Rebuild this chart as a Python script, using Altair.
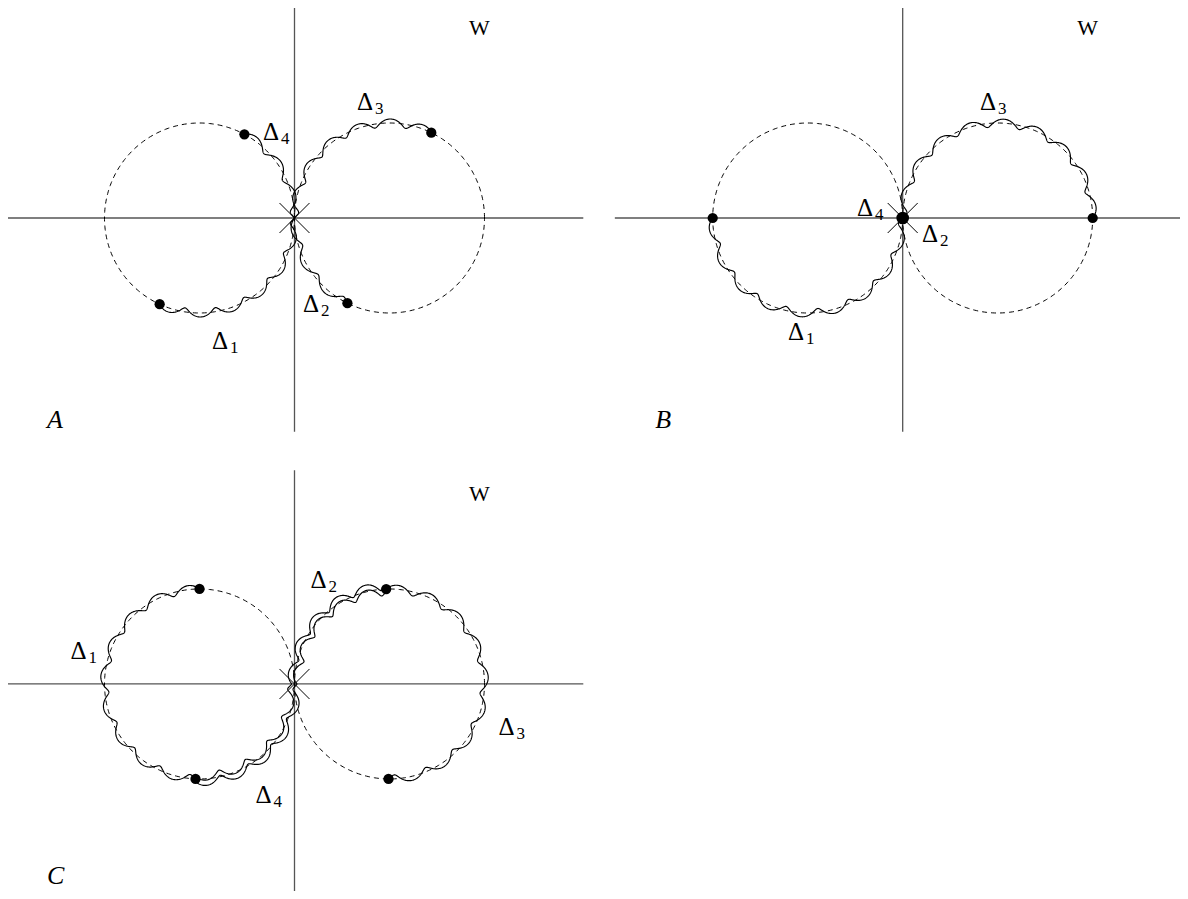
import math
import altair as alt
import pandas as pd

# ---------------- layout (pixels per unit, plot size) ----------------
K = 95.0
W_PX, H_PX = 1172, 883
A_PX, A_PY = 294.5, 218.0          # page position of panel A origin

# ---------------- diagram data (units: circle radius = 1) ----------------
panel_names = ["A", "B", "C"]
panel_ox = [0.0, 6.402, 0.0]
panel_oy = [0.0, 0.0, -4.905]
axis_h_lo = [-3.05, -3.03, -3.05]
axis_h_hi = [3.04, 3.02, 3.04]
axis_v_lo = [-2.25, -2.25, -2.22]
axis_v_hi = [2.24, 2.24, 2.25]

circle_sides = [-1, 1]             # circles centred at (-1,0) and (1,0)

dot_panel = ["A", "A", "A", "A", "B", "B", "B", "C", "C", "C", "C"]
dot_side = [-1, -1, 1, 1, -1, 1, -1, -1, -1, 1, 1]
dot_angle = [61.8, 245.2, 63.9, 243.7, 180, 0, 0, 90, 267.6, 92, 269.4]
dot_big = [0, 0, 0, 0, 0, 0, 1, 0, 0, 0, 0]

wave_panel = ["A", "A", "A", "A", "B", "B", "C", "C", "C", "C", "C", "C"]
wave_side = [-1, 1, 1, -1, -1, 1, -1, 1, -1, 1, -1, 1]
wave_start = [245.2, 180, 63.9, 61.8, 180, 0, 90, 92, 267.6, 180, 267.6, 180]
wave_end = [360, 243.7, 180, 0, 360, 180, 267.6, -90.6, 360, 92, 360, 92]
wave_off = [0, 0, 0, 0, 0, 0, 0, 0, 0.028, 0.028, -0.028, -0.028]

lab_panel = ["A", "A", "A", "A", "B", "B", "B", "B", "C", "C", "C", "C"]
lab_sub = ["1", "2", "3", "4", "1", "2", "3", "4", "1", "2", "3", "4"]
lab_x = [-0.868, 0.089, 0.658, -0.332, -1.207, 0.203, 0.814, -0.481,
         -2.358, 0.168, 2.147, -0.41]
lab_y = [-1.379, -0.989, 1.137, 0.821, -1.281, -0.249, 1.14, 0.017,
         0.263, 1.011, -0.537, -1.253]

w_x, w_y = 1.837, 1.926            # "W" label (relative to panel origin)
letter_x = [-2.605, -2.605, -2.605]
letter_y = [-2.21, -2.21, -2.105]

CROSS = 0.158                      # half size of the X mark at origin

# ---------------- build tables ----------------
P = {n: (panel_ox[i], panel_oy[i]) for i, n in enumerate(panel_names)}

axes_rows, cross_rows = [], []
for i, n in enumerate(panel_names):
    ox, oy = P[n]
    axes_rows.append(dict(x=ox + axis_h_lo[i], x2=ox + axis_h_hi[i], y=oy, y2=oy))
    axes_rows.append(dict(x=ox, x2=ox, y=oy + axis_v_lo[i], y2=oy + axis_v_hi[i]))
    cross_rows.append(dict(x=ox - CROSS, x2=ox + CROSS, y=oy - CROSS, y2=oy + CROSS))
    cross_rows.append(dict(x=ox - CROSS, x2=ox + CROSS, y=oy + CROSS, y2=oy - CROSS))
axes_df = pd.DataFrame(axes_rows)
cross_df = pd.DataFrame(cross_rows)

circ_rows = []
for n in panel_names:
    ox, oy = P[n]
    for s in circle_sides:
        for d in range(0, 361):
            t = math.radians(d)
            circ_rows.append(dict(id=f"{n}{s}", i=d,
                                  x=ox + s + math.cos(t), y=oy + math.sin(t)))
circ_df = pd.DataFrame(circ_rows)

wave_rows = []
A_AMP, C_TAN, PERIOD = 0.042, 0.024, 0.34
for j in range(len(wave_panel)):
    ox, oy = P[wave_panel[j]]
    cx = ox + wave_side[j]
    t0, t1 = wave_start[j], wave_end[j]
    span = math.radians(t1 - t0)
    sg = 1 if span > 0 else -1
    nwav = max(1, round(abs(span) / PERIOD))
    m = int(abs(t1 - t0) / 0.3) + 1
    for i in range(m + 1):
        s = i / m
        phi = 2 * math.pi * nwav * s
        th = math.radians(t0) + span * s + sg * C_TAN * (1 - math.cos(phi))
        r = 1 + wave_off[j] + A_AMP * math.sin(phi)
        wave_rows.append(dict(id=f"w{j}", i=i,
                              x=cx + r * math.cos(th), y=oy + r * math.sin(th)))
wave_df = pd.DataFrame(wave_rows)

dot_rows = []
for j in range(len(dot_panel)):
    ox, oy = P[dot_panel[j]]
    t = math.radians(dot_angle[j])
    dot_rows.append(dict(x=ox + dot_side[j] + math.cos(t), y=oy + math.sin(t),
                         big=dot_big[j]))
dot_df = pd.DataFrame(dot_rows)

lab_df = pd.DataFrame([dict(x=P[lab_panel[j]][0] + lab_x[j],
                            y=P[lab_panel[j]][1] + lab_y[j],
                            d="\u0394", sub=lab_sub[j]) for j in range(len(lab_panel))])
w_df = pd.DataFrame([dict(x=P[n][0] + w_x, y=P[n][1] + w_y, t="W") for n in panel_names])
let_df = pd.DataFrame([dict(x=P[n][0] + letter_x[i], y=P[n][1] + letter_y[i], t=n)
                       for i, n in enumerate(panel_names)])

# ---------------- scales ----------------
x0 = -(A_PX - 8) / K
x1 = x0 + W_PX / K
y1 = (A_PY - 8) / K
y0 = y1 - H_PX / K
xs = alt.Scale(domain=[x0, x1], nice=False, zero=False)
ys = alt.Scale(domain=[y0, y1], nice=False, zero=False)
X = lambda f="x": alt.X(f"{f}:Q", scale=xs, axis=None)
Y = lambda f="y": alt.Y(f"{f}:Q", scale=ys, axis=None)
FONT = "Liberation Serif"

axes = alt.Chart(axes_df).mark_rule(color="#555555", strokeWidth=1.3).encode(
    x=X(), x2="x2:Q", y=Y(), y2="y2:Q")
cross = alt.Chart(cross_df).mark_rule(color="black", strokeWidth=1).encode(
    x=X(), x2="x2:Q", y=Y(), y2="y2:Q")
circles = alt.Chart(circ_df).mark_line(color="black", strokeWidth=1, strokeDash=[5, 4]).encode(
    x=X(), y=Y(), detail="id:N", order="i:Q")
waves = alt.Chart(wave_df).mark_line(color="black", strokeWidth=1.15).encode(
    x=X(), y=Y(), detail="id:N", order="i:Q")
dots = alt.Chart(dot_df).mark_circle(color="black", opacity=1).encode(
    x=X(), y=Y(),
    size=alt.Size("big:N", scale=alt.Scale(domain=[0, 1], range=[105, 160]), legend=None))
deltas = alt.Chart(lab_df).mark_text(font=FONT, fontSize=25, align="left",
                                     baseline="alphabetic", color="black").encode(
    x=X(), y=Y(), text="d:N")
subs = alt.Chart(lab_df).mark_text(font=FONT, fontSize=17, align="left", dx=18, dy=4,
                                   baseline="alphabetic", color="black").encode(
    x=X(), y=Y(), text="sub:N")
wlab = alt.Chart(w_df).mark_text(font=FONT, fontSize=22, align="left",
                                 baseline="alphabetic", color="black").encode(
    x=X(), y=Y(), text="t:N")
letters = alt.Chart(let_df).mark_text(font=FONT, fontSize=26, fontStyle="italic", align="left",
                                      baseline="alphabetic", color="black").encode(
    x=X(), y=Y(), text="t:N")

chart = alt.layer(axes, circles, waves, cross, dots, deltas, subs, wlab, letters).properties(
    width=W_PX, height=H_PX, autosize="none", padding=0
).configure_view(stroke=None)

chart.save("out.html", embed_options={"renderer": "svg", "actions": False})
